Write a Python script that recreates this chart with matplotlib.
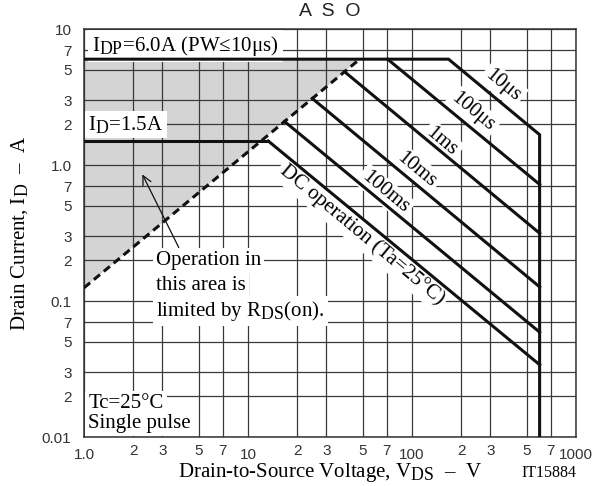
import matplotlib
matplotlib.use("Agg")
import matplotlib.pyplot as plt
import matplotlib._mathtext as mathtext_internals

plt.rcParams["mathtext.fontset"] = "custom"
plt.rcParams["mathtext.rm"] = "Liberation Serif"
plt.rcParams["mathtext.it"] = "Liberation Serif:italic"
# subscripts in this chart are set nearly full size
mathtext_internals.SHRINK_FACTOR = 0.85

SERIF = "Liberation Serif"
SANS = "Liberation Sans"

# limits
v_dss = 600.0
i_dp = 6.0
i_d = 1.5

# RDS(on) limit line (dashed)
rds_v = [1.0, 48.0]
rds_i = [0.125, 6.0]

# pulse curves: knee point on the upper limit, then end current at V_DSS
curve_names = ["10\u03bcs", "100\u03bcs", "1ms", "10ms", "100ms", "DC operation (Ta=25\u00b0C)"]
curve_v_start = [167.0, 71.0, 38.8, 24.7, 16.7, 13.3]
curve_i_start = [6.0, 6.0, 4.85, 3.08, 2.09, 1.5]
curve_i_end = [1.67, 0.72, 0.315, 0.127, 0.059, 0.034]
label_v = [359, 235, 152, 107, 68.4, 49.5]
label_i = [3.87, 2.45, 1.48, 0.92, 0.63, 0.305]

x_ticks = [1, 2, 3, 5, 7, 10, 20, 30, 50, 70, 100, 200, 300, 500, 700, 1000]
x_labels = ["1.0", "2", "3", "5", "7", "10", "2", "3", "5", "7", "100",
            "2", "3", "5", "7", "1000"]
y_ticks = [0.01, 0.02, 0.03, 0.05, 0.07, 0.1, 0.2, 0.3, 0.5, 0.7,
           1, 2, 3, 5, 7, 10]
y_labels = ["0.01", "2", "3", "5", "7", "0.1", "2", "3", "5", "7",
            "1.0", "2", "3", "5", "7", "10"]

W, H = 611, 486
fig = plt.figure(figsize=(W / 100, H / 100), dpi=100)
ax = fig.add_axes([84 / W, (H - 437) / H, (576 - 84) / W, (437 - 29) / H])
ax.set_xscale("log")
ax.set_yscale("log")
ax.set_xlim(1, 1000)
ax.set_ylim(0.01, 10)

decades_x = [t for t in x_ticks if t in (1, 10, 100, 1000)]
ax.set_xticks(decades_x)
ax.set_xticklabels([l for t, l in zip(x_ticks, x_labels) if t in decades_x])
ax.set_xticks([t for t in x_ticks if t not in decades_x], minor=True)
ax.set_xticklabels([l for t, l in zip(x_ticks, x_labels) if t not in decades_x], minor=True)
decades_y = [t for t in y_ticks if t in (0.01, 0.1, 1, 10)]
ax.set_yticks(decades_y)
ax.set_yticklabels([l for t, l in zip(y_ticks, y_labels) if t in decades_y])
ax.set_yticks([t for t in y_ticks if t not in decades_y], minor=True)
ax.set_yticklabels([l for t, l in zip(y_ticks, y_labels) if t not in decades_y], minor=True)

ax.tick_params(which="both", length=0, labelsize=11, labelcolor="#333333")
ax.tick_params(axis="x", which="major", pad=8)
ax.tick_params(axis="x", which="minor", pad=5)
ax.tick_params(axis="y", which="both", pad=9)
for lab in ax.get_xticklabels(which="both") + ax.get_yticklabels(which="both"):
    lab.set_family(SANS)

ax.set_axisbelow(True)
ax.grid(which="both", color="#3a3a3a", lw=0.9)
for sp in ax.spines.values():
    sp.set_color("#333333")
    sp.set_linewidth(1.1)

# area limited by RDS(on)
ax.fill([rds_v[0], rds_v[1], rds_v[0]], [rds_i[0], rds_i[1], rds_i[1]],
        color="#d4d4d4", lw=0, zorder=0.3)
ax.plot(rds_v, rds_i, color="#111111", lw=2.2, ls=(0, (2.6, 1.6)), zorder=4)

lw = 2.2
# outer boundary: IDP, 10us, VDSS
ax.plot([rds_v[0], curve_v_start[0], v_dss, v_dss],
        [i_dp, i_dp, curve_i_end[0], 0.01], color="#111111", lw=lw, zorder=4,
        solid_joinstyle="miter")
for k in range(1, len(curve_names)):
    ax.plot([curve_v_start[k], v_dss], [curve_i_start[k], curve_i_end[k]],
            color="#111111", lw=lw, zorder=4)
# ID(DC) line
ax.plot([rds_v[0], curve_v_start[-1]], [i_d, i_d], color="#111111", lw=lw, zorder=4)

box = dict(boxstyle="square,pad=0.15", fc="white", ec="none")
for name, xv, yv in zip(curve_names, label_v, label_i):
    ax.text(xv, yv, name, family=SERIF, fontsize=15, rotation=-39.7,
            rotation_mode="anchor", ha="center", va="center", bbox=box, zorder=3)

ax.text(1.12, 6.89, "I$_{\\rm DP}$=6.0A (PW\u226410\u03bcs)",
        family=SERIF, fontsize=15, va="baseline", zorder=3,
        bbox=dict(boxstyle="square,pad=0.2", fc="white", ec="none"))
ax.text(1.06, 1.81, "I$_{\\rm D}$=1.5A", family=SERIF, fontsize=15,
        va="baseline", zorder=3, bbox=box)
ax.text(1.06, 0.0163, "Tc=25\u00b0C", family=SERIF, fontsize=15,
        va="baseline", zorder=3, bbox=box)
ax.text(1.06, 0.01165, "Single pulse", family=SERIF, fontsize=15,
        va="baseline", zorder=3, bbox=box)

note_lines = ["Operation in", "this area is", "limited by R$_{\\rm DS}$(on)."]
note_i = [0.184, 0.1205, 0.0776]
for line, yv in zip(note_lines, note_i):
    ax.text(2.75, yv, line, family=SERIF, fontsize=15, va="baseline",
            zorder=3, bbox=box)
ax.annotate("", xy=(2.23, 0.89), xytext=(3.85, 0.237),
            arrowprops=dict(arrowstyle="->", color="#111111", lw=0.9,
                            mutation_scale=16), zorder=3)

fig.text(330 / W, 1 - 11 / H, "A  S  O", family=SANS, fontsize=14,
         ha="center", va="center", color="#222222")
fig.text(330 / W, 1 - 477 / H, "Drain-to-Source Voltage, V$_{\\rm DS}$  \u2013  V",
         family=SERIF, fontsize=15, ha="center", va="baseline")
fig.text(576 / W, 1 - 477 / H, "IT15884", family=SERIF, fontsize=11.5,
         ha="right", va="baseline")
fig.text(20 / W, 1 - 233 / H, "Drain Current, I$_{\\rm D}$  \u2013  A",
         family=SERIF, fontsize=15, ha="center", va="center", rotation=90)

fig.savefig("out.png", dpi=100)
